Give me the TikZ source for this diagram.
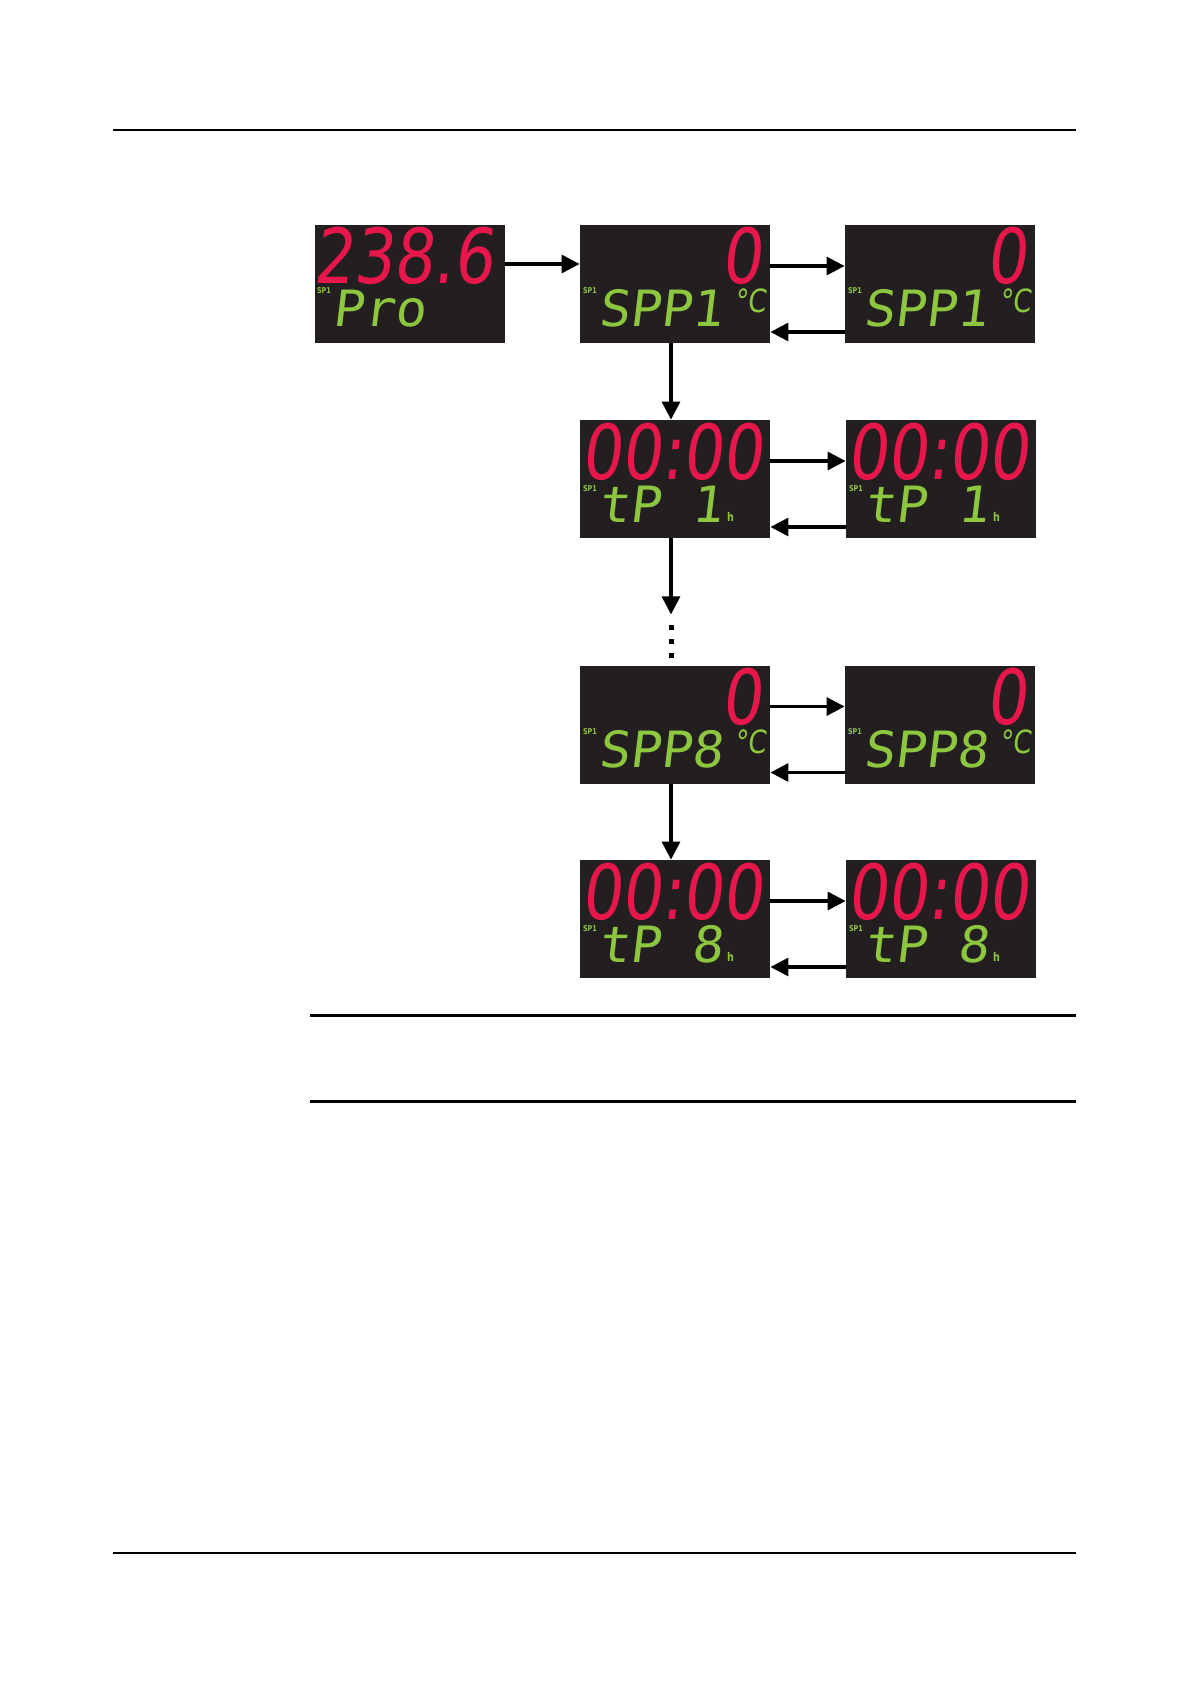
\documentclass[tikz,border=0pt]{standalone}
\usepackage{fontspec}
\usepackage{tikz}
\usetikzlibrary{arrows.meta}

\newfontfamily\segfont[FakeStretch=0.83,FakeSlant=0.12]{DejaVu Sans}
\newfontfamily\segmono[FakeStretch=1.04,FakeSlant=0.12]{DejaVu Sans Mono}
\newfontfamily\tagfont[FakeStretch=0.8]{DejaVu Sans}

\definecolor{lcdbg}{HTML}{231F20}
\definecolor{segred}{HTML}{E8174B}
\definecolor{seggreen}{HTML}{8DC63F}

\tikzset{
    lcd/.style={fill=lcdbg, minimum width=95pt, minimum height=59pt, inner sep=0pt},
    redled/.style={text=segred, inner sep=0pt, font=\segfont\fontsize{38}{38}\selectfont},
    greenled/.style={text=seggreen, inner sep=0pt, font=\segmono\fontsize{25}{25}\selectfont},
    unitled/.style={text=seggreen, inner sep=0pt, font=\segfont\fontsize{16}{16}\selectfont},
    sptag/.style={text=seggreen, inner sep=0pt, font=\tagfont\bfseries\fontsize{4}{4}\selectfont},
    hrs/.style={text=seggreen, inner sep=0pt, font=\tagfont\bfseries\fontsize{6}{6}\selectfont},
    link/.style={-{Triangle[length=9pt,width=9pt]}, line width=1.6pt},
}

\begin{document}
\begin{tikzpicture}[x=0.5pt,y=-0.5pt]
    \useasboundingbox (0,0) rectangle (1190,1684);

    % page rules
    \draw[line width=0.8pt] (113,130) -- (1076,130);
    \draw[line width=0.8pt] (113,1553) -- (1076,1553);
    \draw[line width=1.5pt] (310,1015) -- (1076,1015);
    \draw[line width=1.5pt] (310,1101) -- (1076,1101);

    % start screen
    \node[lcd] (pro) at (410,284) {};
    \node[redled, anchor=base east] (pro-val) at ([shift={(-11,59)}]pro.north east) {238.6};
    \node[sptag, anchor=north west] (pro-tag) at ([shift={(2,63)}]pro.north west) {SP1};
    \node[greenled, anchor=base west] (pro-txt) at ([shift={(17,102)}]pro.north west) {Pro};

    % setpoint screens
    \foreach \n/\x/\y/\k in {spa/675/284/1, spb/940/284/1, sha/675/724.5/8, shb/940/724.5/8} {
        \node[lcd] (\n) at (\x,\y) {};
        \node[redled, anchor=base east] (\n-val) at ([shift={(-8,59)}]\n.north east) {0};
        \node[sptag, anchor=north west] (\n-tag) at ([shift={(3,63)}]\n.north west) {SP1};
        \node[greenled, anchor=base west] (\n-txt) at ([shift={(18,102)}]\n.north west) {SPP\k};
        \node[unitled, anchor=north west] (\n-unit) at ([shift={(154,64)}]\n.north west) {°C};
    }

    % time screens
    \foreach \n/\x/\y/\k in {tpa/675/479/1, tpb/941/479/1, tha/675/919/8, thb/941/919/8} {
        \node[lcd] (\n) at (\x,\y) {};
        \node[redled, anchor=base east] (\n-val) at ([shift={(-7,60)}]\n.north east) {00:00};
        \node[sptag, anchor=north west] (\n-tag) at ([shift={(3,66)}]\n.north west) {SP1};
        \node[greenled, anchor=base west] (\n-txt) at ([shift={(18,103)}]\n.north west) {tP \k};
        \node[hrs, anchor=base west] (\n-unit) at ([shift={(147,102)}]\n.north west) {h};
    }

    % arrows
    \draw[link] ([yshift=10pt]pro.east) -- ([yshift=10pt]spa.west);
    \foreach \a/\b in {spa/spb, tpa/tpb, sha/shb, tha/thb} {
        \draw[link] ([yshift=9pt]\a.east) -- ([yshift=9pt]\b.west);
        \draw[link] ([yshift=-24pt]\b.west) -- ([yshift=-24pt]\a.east);
    }
    \draw[link] ([xshift=-2pt]spa.south) -- ([xshift=-2pt]tpa.north);
    \coordinate (gap) at ([xshift=-2pt,yshift=-38pt]tpa.south);
    \draw[link] ([xshift=-2pt]tpa.south) -- (gap);
    \draw[line width=2.5pt, dash pattern=on 2.5pt off 4.5pt] ([yshift=-5.5pt]gap) -- ([yshift=-23pt]gap);
    \draw[link] ([xshift=-2pt]sha.south) -- ([xshift=-2pt]tha.north);
\end{tikzpicture}
\end{document}
